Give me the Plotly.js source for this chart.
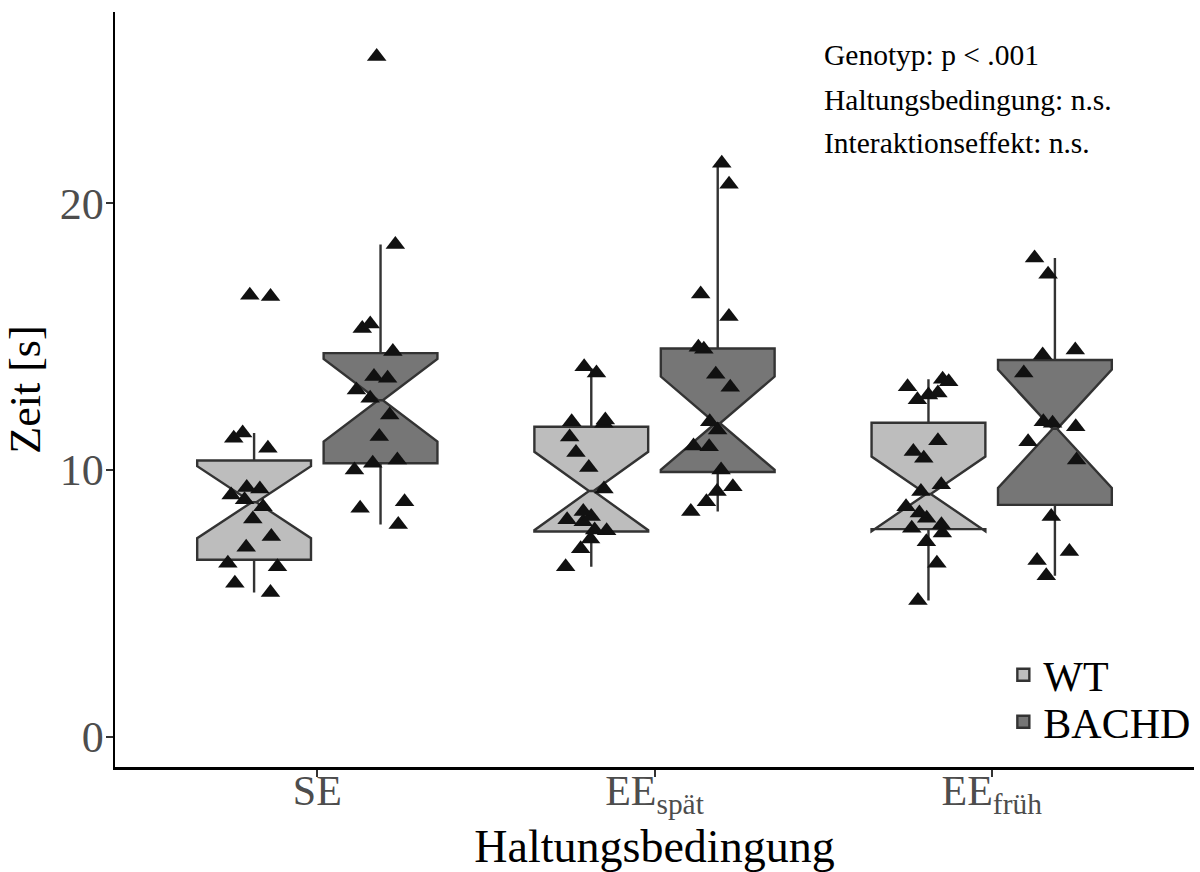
<!DOCTYPE html>
<html>
<head>
<meta charset="utf-8">
<script src="https://cdn.plot.ly/plotly-3.0.1.min.js"></script>
<style>
html,body{margin:0;padding:0;background:#fff;}
#chart{width:1200px;height:872px;}
</style>
</head>
<body>
<div id="chart"></div>
<script>
// ---- categories / labels ----
const categories = ['SE', 'EEspät', 'EEfrüh'];
const tickLabels = ['SE', 'EE<sub>spät</sub>', 'EE<sub>früh</sub>'];
const genotypes = ['WT', 'BACHD'];
const statLines = ['Genotyp: p < .001', 'Haltungsbedingung: n.s.', 'Interaktionseffekt: n.s.'];

// ---- raw observations (Zeit [s]) ----
const wtSE = [16.55, 16.5, 11.38, 11.19, 10.81, 9.34, 9.28, 9.06, 8.88, 8.62, 8.16, 7.5, 7.1, 6.5, 6.37, 5.75, 5.4];
const wtSpaet = [13.87, 13.63, 11.87, 11.81, 11.75, 11.23, 10.65, 10.09, 9.28, 8.44, 8.25, 8.13, 8.06, 7.75, 7.72, 7.41, 7.04, 6.37];
const wtFrueh = [13.4, 13.31, 13.12, 12.88, 12.81, 12.63, 11.09, 10.69, 10.44, 9.44, 9.19, 8.62, 8.38, 8.19, 7.94, 7.81, 7.63, 7.31, 6.5, 5.1];
const bachdSE = [25.5, 18.45, 15.47, 15.3, 14.44, 13.5, 13.44, 13.0, 12.69, 12.06, 11.25, 10.37, 10.25, 10.0, 8.81, 8.56, 7.95];
const bachdSpaet = [21.5, 20.71, 16.6, 15.75, 14.6, 14.52, 13.59, 13.1, 11.81, 11.5, 10.9, 10.87, 10.0, 9.37, 9.19, 8.81, 8.44];
const bachdFrueh = [17.95, 17.34, 14.5, 14.31, 13.63, 11.81, 11.75, 11.62, 11.06, 10.37, 8.25, 6.94, 6.6, 6.03];

// ---- box statistics per category (SE, EEspät, EEfrüh) ----
const wtQ1 = [6.63, 7.69, 7.78];
const wtMedian = [8.79, 9.21, 9.1];
const wtQ3 = [10.35, 11.62, 11.77];
const wtLower = [5.4, 6.37, 5.1];
const wtUpper = [11.38, 13.81, 13.4];
const wtNotch = [1.35, 1.47, 1.4];

const bachdQ1 = [10.25, 9.92, 8.69];
const bachdMedian = [12.61, 11.75, 11.54];
const bachdQ3 = [14.38, 14.55, 14.12];
const bachdLower = [7.95, 8.44, 6.03];
const bachdUpper = [18.45, 21.5, 17.95];
const bachdNotch = [1.55, 1.75, 2.22];

const FONT = '"Liberation Serif", "Times New Roman", "DejaVu Serif", serif';
const fills = {WT: '#bdbdbd', BACHD: '#767676'};
const legendIds = {WT: 'legend', BACHD: 'legend2'};

function statsTrace(name, q1, med, q3, lo, hi, notch) {
  return {
    type: 'box', name: name, x: categories, legend: legendIds[name],
    q1: q1, median: med, q3: q3, lowerfence: lo, upperfence: hi,
    notchspan: notch, notched: true, notchwidth: 0.48,
    boxpoints: false, fillcolor: fills[name],
    line: {color: '#333333', width: 2.4}, whiskerwidth: 0,
    offsetgroup: name, alignmentgroup: 'g', hoverinfo: 'skip'
  };
}
function pointsTrace(name, groups) {
  const xs = [], ys = [];
  groups.forEach((vals, i) => vals.forEach(v => { xs.push(categories[i]); ys.push(v); }));
  return {
    type: 'box', name: name + ' Punkte', x: xs, y: ys, showlegend: false,
    boxpoints: 'all', jitter: 0.6, pointpos: 0,
    fillcolor: 'rgba(0,0,0,0)', line: {color: 'rgba(0,0,0,0)', width: 0}, whiskerwidth: 0,
    marker: {symbol: 'triangle-up', size: 17, color: '#111111', line: {width: 0}},
    offsetgroup: name, alignmentgroup: 'g', hoveron: 'points'
  };
}

const traces = [
  statsTrace('WT', wtQ1, wtMedian, wtQ3, wtLower, wtUpper, wtNotch),
  statsTrace('BACHD', bachdQ1, bachdMedian, bachdQ3, bachdLower, bachdUpper, bachdNotch),
  pointsTrace('WT', [wtSE, wtSpaet, wtFrueh]),
  pointsTrace('BACHD', [bachdSE, bachdSpaet, bachdFrueh])
];

const annY = [0.943, 0.884, 0.827];
const annotations = statLines.map((t, i) => ({
  text: t, xref: 'paper', yref: 'paper', x: 0.655, y: annY[i],
  xanchor: 'left', yanchor: 'middle', showarrow: false,
  font: {family: FONT, size: 29.5, color: '#000'}
}));

const legendBase = {
  xref: 'paper', yref: 'paper', x: 0.8233, xanchor: 'left', yanchor: 'middle',
  bgcolor: 'rgba(0,0,0,0)', borderwidth: 0,
  font: {family: FONT, size: 42, color: '#000'}
};

const layout = {
  width: 1200, height: 872,
  margin: {l: 115, r: 4, t: 12, b: 105},
  paper_bgcolor: '#fff', plot_bgcolor: '#fff',
  font: {family: FONT, color: '#000'},
  boxmode: 'group', boxgap: 0.25, boxgroupgap: 0.1,
  showlegend: true,
  legend: Object.assign({}, legendBase, {y: 0.1219}),
  legend2: Object.assign({}, legendBase, {y: 0.0596}),
  xaxis: {
    type: 'category', categoryorder: 'array', categoryarray: categories,
    tickvals: categories, ticktext: tickLabels,
    range: [-0.6, 2.6], autorange: false,
    showline: true, linecolor: '#000', linewidth: 2.5, mirror: false,
    ticks: 'outside', ticklen: 7, tickwidth: 2, tickcolor: '#333',
    ticklabelstandoff: -22,
    showgrid: false, zeroline: false,
    tickfont: {family: FONT, size: 42, color: '#4d4d4d'},
    title: {text: 'Haltungsbedingung', font: {family: FONT, size: 46, color: '#000'}, standoff: 24},
    automargin: false, fixedrange: true
  },
  yaxis: {
    range: [-1.14, 27.17], autorange: false,
    tickvals: [0, 10, 20], ticktext: ['0', '10', '20'],
    showline: true, linecolor: '#000', linewidth: 2.5,
    ticks: 'outside', ticklen: 7, tickwidth: 2, tickcolor: '#333',
    ticklabelstandoff: -7,
    showgrid: false, zeroline: false,
    tickfont: {family: FONT, size: 44, color: '#4d4d4d'},
    title: {text: 'Zeit [s]', font: {family: FONT, size: 44, color: '#000'}, standoff: 6},
    automargin: false, fixedrange: true
  },
  annotations: annotations
};

Plotly.newPlot('chart', traces, layout, {displayModeBar: false, staticPlot: true});
</script>
</body>
</html>
